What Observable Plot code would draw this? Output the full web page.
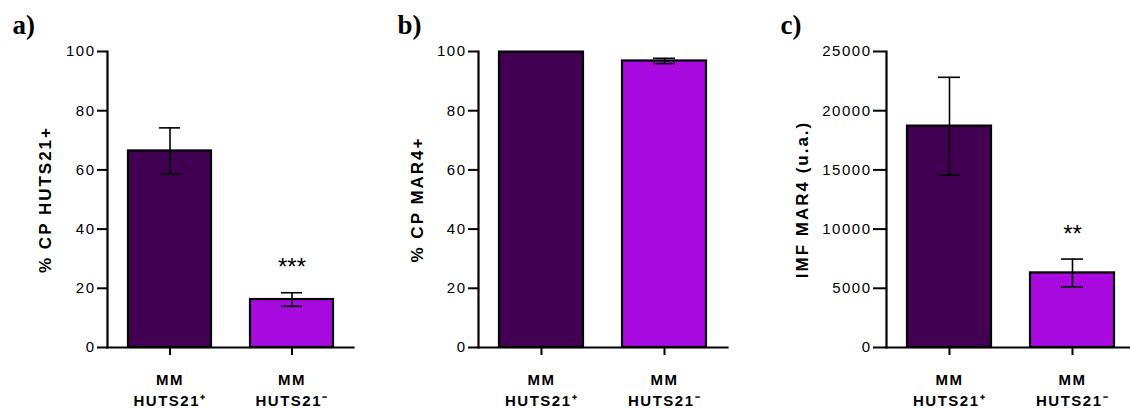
<!DOCTYPE html>
<html>
<head>
<meta charset="utf-8">
<script src="https://cdn.jsdelivr.net/npm/d3@7"></script>
<script src="https://cdn.jsdelivr.net/npm/@observablehq/plot@0.6"></script>
<style>
  html, body { margin: 0; padding: 0; background: #fff; overflow: hidden; }
  #fig { position: relative; width: 1130px; height: 408px; overflow: hidden; }
  .panel { position: absolute; top: 0; }
  .panel svg { overflow: visible; max-width: none !important; }
  g[aria-label="y-axis tick label"] { letter-spacing: 1.5px; }
  g[aria-label="x-axis tick label"] { letter-spacing: 1.5px; }
  g.ytitle text { letter-spacing: 2px; }
</style>
</head>
<body>
<div id="fig"></div>
<script>
// Groups compared in every panel
const groups = ["MM HUTS21+", "MM HUTS21-"];
const groupLabels = ["MM\nHUTS21⁺", "MM\nHUTS21⁻"];
const groupColors = ["#420052", "#a80ae0"];

// a) % of plasma cells that are HUTS21+
const huts21Mean = [66.4, 16.2];
const huts21Sem = [7.8, 2.3];
const huts21Stars = ["", "***"];

// b) % of plasma cells that are MAR4+
const mar4Mean = [99.8, 96.8];
const mar4Sem = [0, 0.9];
const mar4Stars = ["", ""];

// c) MAR4 mean fluorescence intensity
const imfMean = [18700, 6300];
const imfSem = [4120, 1170];
const imfStars = ["", "**"];

// y-axis ticks
const pctTicks = [0, 20, 40, 60, 80, 100];
const imfTicks = [0, 5000, 10000, 15000, 20000, 25000];

const font = "'Liberation Sans', Arial, Helvetica, sans-serif";

function panel(p) {
  const rows = groups.map((g, i) => ({
    group: g,
    mean: p.mean[i],
    lo: p.mean[i] - p.sem[i],
    hi: p.mean[i] + p.sem[i],
    stars: p.stars[i]
  }));
  const withErr = rows.filter(d => d.hi > d.lo);
  const chart = Plot.plot({
    width: p.width,
    height: 408,
    marginTop: 51,
    marginBottom: 61,
    marginLeft: p.marginLeft,
    marginRight: p.marginRight,
    style: { fontFamily: font, fontSize: "15px", color: "#000", background: "transparent", overflow: "visible" },
    x: { domain: groups, paddingInner: 0.32, paddingOuter: 0.165 },
    y: { domain: [0, p.yMax] },
    color: { domain: groups, range: groupColors },
    marks: [
      Plot.barY(rows, { x: "group", y: "mean", fill: "group", stroke: "#000", strokeWidth: 2.2 }),
      Plot.ruleX(withErr, { x: "group", y1: "lo", y2: "hi", stroke: "#000", strokeWidth: 1.6 }),
      Plot.tickY(withErr, { x: "group", y: "hi", insetLeft: 31, insetRight: 31, stroke: "#000", strokeWidth: 1.6 }),
      Plot.tickY(withErr, { x: "group", y: "lo", insetLeft: 31, insetRight: 31, stroke: "#000", strokeWidth: 1.6 }),
      Plot.text(rows, { x: "group", y: "hi", text: "stars", dy: -25, fontSize: 24, fill: "#000" }),
      Plot.frame({ anchor: "left", stroke: "#000", strokeWidth: 2.2 }),
      Plot.frame({ anchor: "bottom", stroke: "#000", strokeWidth: 2.2 }),
      Plot.axisY({
        ticks: p.yTicks, tickSize: p.yTickSize, tickPadding: 2, strokeWidth: 2,
        fontSize: 15, label: null, tickFormat: d => String(d)
      }),
      Plot.axisX({
        tickSize: 8, tickPadding: 15, strokeWidth: 2, fontSize: 15, fontWeight: "bold",
        lineHeight: 1.4, label: null,
        tickFormat: g => groupLabels[groups.indexOf(g)]
      }),
      Plot.text([p.title], {
        frameAnchor: "left", rotate: -90, dx: p.titleDx, text: d => d,
        textAnchor: "middle", lineAnchor: "middle",
        fontSize: 17, fontWeight: "bold", fill: "#000", className: "ytitle"
      }),
      Plot.text([p.letter], {
        frameAnchor: "top-left", dx: p.letterDx, dy: -18, text: d => d,
        lineAnchor: "bottom", textAnchor: "start",
        fontFamily: "'Liberation Serif', 'Times New Roman', serif",
        fontWeight: "bold", fontSize: 27, fill: "#000"
      })
    ]
  });
  const div = document.createElement("div");
  div.className = "panel";
  div.style.left = p.left + "px";
  div.style.width = p.width + "px";
  div.appendChild(chart);
  document.getElementById("fig").appendChild(div);
}

panel({
  letter: "a)", title: "% CP HUTS21+",
  mean: huts21Mean, sem: huts21Sem, stars: huts21Stars,
  yMax: 100, yTicks: pctTicks, yTickSize: 10,
  left: 0, width: 370, marginLeft: 107, marginRight: 17,
  titleDx: -62, letterDx: -95
});
panel({
  letter: "b)", title: "% CP MAR4+",
  mean: mar4Mean, sem: mar4Sem, stars: mar4Stars,
  yMax: 100, yTicks: pctTicks, yTickSize: 10,
  left: 380, width: 370, marginLeft: 98, marginRight: 23,
  titleDx: -61, letterDx: -81
});
panel({
  letter: "c)", title: "IMF MAR4 (u.a.)",
  mean: imfMean, sem: imfSem, stars: imfStars,
  yMax: 25000, yTicks: imfTicks, yTickSize: 13,
  left: 760, width: 375, marginLeft: 126, marginRight: 0,
  titleDx: -84, letterDx: -106
});
</script>
</body>
</html>
